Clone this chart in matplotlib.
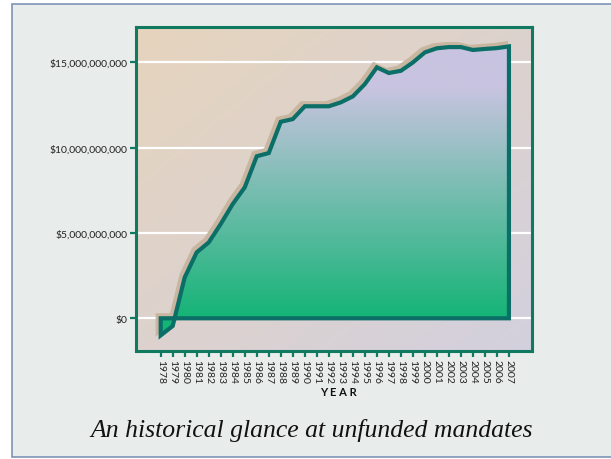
import numpy as np
import matplotlib
matplotlib.use('Agg')
import matplotlib.pyplot as plt
import matplotlib.transforms as mtransforms
from matplotlib.patches import Polygon, Rectangle

# Unfunded mandates by year (billions of dollars)
years = list(range(1978, 2008))
mandates_bn = [-1.0, -0.45, 2.4, 3.87, 4.45, 5.53, 6.7, 7.68, 9.5, 9.69,
               11.52, 11.68, 12.43, 12.43, 12.43, 12.66, 13.01, 13.73, 14.71, 14.38,
               14.51, 15.0, 15.59, 15.83, 15.9, 15.9, 15.73, 15.79, 15.84, 15.94]
y_ticks = [0, 5e9, 10e9, 15e9]
title = 'An historical glance at unfunded mandates'

GREEN = '#0f7a5f'
TEAL = '#0b6e67'
SHADOW = '#c9b6a0'


def rgb(h):
    h = h.lstrip('#')
    return np.array([int(h[i:i + 2], 16) for i in (0, 2, 4)]) / 255.0


def main():
    values = [v * 1e9 for v in mandates_bn]

    fig = plt.figure(figsize=(6.11, 4.60), dpi=100, facecolor='white')
    # light panel with a thin blue border
    fig.patches.append(Rectangle((12 / 611, 2 / 460), 605 / 611, 453 / 460,
                                 transform=fig.transFigure, facecolor='#e8ecea',
                                 edgecolor='#7f92b6', lw=1.2, zorder=-5))

    ax = fig.add_axes([0.2221, 0.2354, 0.6486, 0.7031])
    ax.set_facecolor('none')
    ax.set_zorder(2)

    # diagonal background gradient, tan top-left to lavender bottom-right
    n = 200
    gx, gy = np.meshgrid(np.linspace(0, 1, n), np.linspace(0, 1, n))
    t = ((gx + gy) / 2)[..., None]
    bg = rgb('#e6d4bd') * (1 - t) + rgb('#d3d0de') * t
    ax.imshow(bg, extent=(0, 1, 0, 1), origin='upper', aspect='auto',
              transform=ax.transAxes, zorder=0, interpolation='bilinear')

    for yt in y_ticks:
        ax.axhline(yt, color='white', lw=1.6, zorder=1)

    verts = [(years[0], 0)] + list(zip(years, values)) + [(years[-1], 0)]

    # tan drop shadow up and to the left
    shadow_trans = ax.transData + mtransforms.ScaledTranslation(-0.03, 0.03, fig.dpi_scale_trans)
    shadow = Polygon(verts, closed=True, fill=False, edgecolor=SHADOW, lw=3.0,
                     joinstyle='miter', transform=shadow_trans, zorder=2)
    ax.add_patch(shadow)

    # vertical gradient fill clipped to the area
    clip = Polygon(verts, closed=True, facecolor='none', edgecolor='none', zorder=3)
    ax.add_patch(clip)
    vals = np.linspace(-2e9, 17e9, 300)
    tt = np.clip(vals / 13.5e9, 0, 1)[:, None, None]
    grad = rgb('#14b476') * (1 - tt) + rgb('#c8c4e0') * tt
    grad = np.repeat(grad, 2, axis=1)
    im = ax.imshow(grad, extent=(1975, 2010, -2e9, 17e9), origin='lower',
                   aspect='auto', zorder=3, interpolation='bilinear')
    im.set_clip_path(clip)

    outline = Polygon(verts, closed=True, fill=False, edgecolor=TEAL, lw=3.0,
                      joinstyle='miter', zorder=4)
    ax.add_patch(outline)

    ax.set_xlim(1975.92, 2008.92)
    ax.set_ylim(-1.90e9, 17.06e9)

    ax.set_xticks(years)
    ax.set_xticklabels([str(y) for y in years], rotation=-90)
    ax.set_yticks(y_ticks)
    ax.set_yticklabels([f'${v:,.0f}' for v in y_ticks])
    for lab in ax.get_xticklabels() + ax.get_yticklabels():
        lab.set_fontfamily('Lato')
        lab.set_fontsize(7.5)
        lab.set_color('#222222')
    ax.tick_params(axis='both', direction='out', length=4, width=1.6,
                   color=GREEN, pad=2)

    for sp in ax.spines.values():
        sp.set_color(GREEN)
        sp.set_linewidth(2.2)
        sp.set_zorder(6)

    fig.text(338 / 611, 1 - 393 / 460, 'Y E A R', ha='center', va='center',
             fontsize=8, fontweight='bold', family='Lato', color='#111111')
    fig.text(312 / 611, 1 - 431 / 460, title, ha='center', va='center',
             fontsize=18.5, style='italic', family='Liberation Serif', color='#111111')

    fig.savefig('out.png', dpi=100, facecolor=fig.get_facecolor())


if __name__ == '__main__':
    main()
